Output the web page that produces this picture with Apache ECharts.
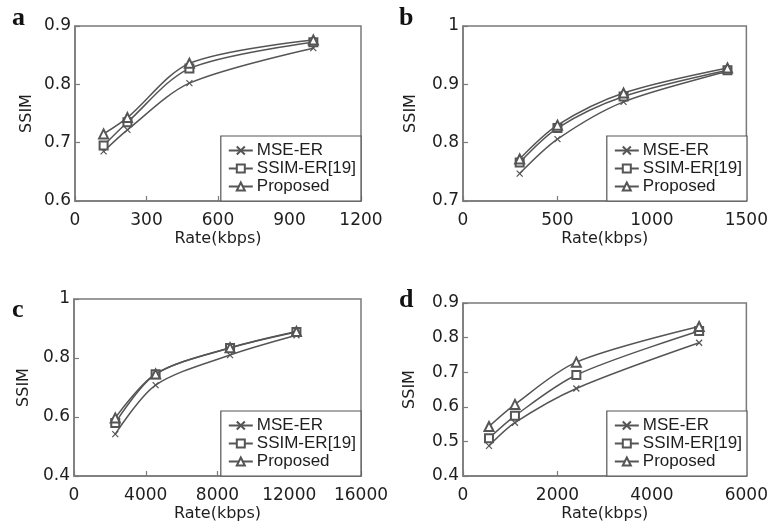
<!DOCTYPE html>
<html>
<head>
<meta charset="utf-8">
<script src="https://cdn.jsdelivr.net/npm/echarts@6/dist/echarts.min.js"></script>
<style>
  html, body { margin: 0; padding: 0; background: #fff; }
  #chart { width: 771px; height: 530px; }
</style>
</head>
<body>
<div id="chart"></div>
<script>
// Series labels shared by all four panels
const methods = ['MSE-ER', 'SSIM-ER[19]', 'Proposed'];

// Panel a
const rateA = [120, 220, 480, 1000];
const mseA  = [0.685, 0.722, 0.802, 0.862];
const ssimA = [0.695, 0.735, 0.827, 0.872];
const propA = [0.715, 0.743, 0.836, 0.876];

// Panel b
const rateB = [300, 500, 850, 1400];
const mseB  = [0.747, 0.806, 0.870, 0.922];
const ssimB = [0.766, 0.825, 0.879, 0.924];
const propB = [0.772, 0.830, 0.885, 0.928];

// Panel c
const rateC = [2300, 4550, 8700, 12400];
const mseC  = [0.542, 0.708, 0.810, 0.877];
const ssimC = [0.580, 0.745, 0.834, 0.888];
const propC = [0.597, 0.746, 0.835, 0.890];

// Panel d
const rateD = [550, 1100, 2400, 5000];
const mseD  = [0.487, 0.554, 0.653, 0.785];
const ssimD = [0.509, 0.574, 0.692, 0.819];
const propD = [0.543, 0.607, 0.729, 0.832];

// Axis ranges: [min, max, interval]
const xRanges = [[0, 1200, 300], [0, 1500, 500], [0, 16000, 4000], [0, 6000, 2000]];
const yRanges = [[0.6, 0.9, 0.1], [0.7, 1.0, 0.1], [0.4, 1.0, 0.2], [0.4, 0.9, 0.1]];
const panelLetters = ['a', 'b', 'c', 'd'];

const panels = [
  { rate: rateA, vals: [mseA, ssimA, propA] },
  { rate: rateB, vals: [mseB, ssimB, propB] },
  { rate: rateC, vals: [mseC, ssimC, propC] },
  { rate: rateD, vals: [mseD, ssimD, propD] }
];

// Layout of each plot box
const boxes = [
  { left: 75,  top: 26,  width: 286, height: 175, nameGap: 40, title: [12, 5] },
  { left: 463, top: 26,  width: 284, height: 175, nameGap: 44, title: [399, 5] },
  { left: 74,  top: 299, width: 287, height: 177, nameGap: 42, title: [12, 297] },
  { left: 463, top: 303, width: 284, height: 173, nameGap: 45, title: [399, 287] }
];

const lineColor = '#555';
const boxColor = '#7a7a7a';
const textColor = '#1e1e1e';
const crossPath = 'path://M0 0L10 10M10 0L0 10';

const symbols = [
  { symbol: crossPath, symbolSize: 6 },
  { symbol: 'emptyRect', symbolSize: 8 },
  { symbol: 'emptyTriangle', symbolSize: 9 }
];

const grid = [], xAxis = [], yAxis = [], series = [], legend = [], title = [];

boxes.forEach((b, i) => {
  grid.push({
    left: b.left, top: b.top, width: b.width, height: b.height,
    show: true, borderColor: boxColor, borderWidth: 1.5, backgroundColor: '#fff'
  });
  xAxis.push({
    type: 'value', gridIndex: i,
    min: xRanges[i][0], max: xRanges[i][1], interval: xRanges[i][2],
    name: 'Rate(kbps)', nameLocation: 'middle', nameGap: 30,
    nameTextStyle: { fontFamily: 'DejaVu Sans', fontSize: 16, color: textColor },
    axisLine: { show: true, lineStyle: { color: boxColor, width: 1.5 } },
    axisTick: { show: true, inside: true, length: 5, lineStyle: { color: boxColor, width: 1.2 } },
    axisLabel: {
      fontFamily: 'DejaVu Sans', fontSize: 17, color: textColor, margin: 11,
      formatter: v => String(Math.round(v))
    },
    splitLine: { show: false }
  });
  yAxis.push({
    type: 'value', gridIndex: i,
    min: yRanges[i][0], max: yRanges[i][1], interval: yRanges[i][2],
    name: 'SSIM', nameLocation: 'middle', nameGap: b.nameGap, nameRotate: 90,
    nameTextStyle: { fontFamily: 'DejaVu Sans', fontSize: 16, color: textColor },
    axisLine: { show: true, lineStyle: { color: boxColor, width: 1.5 } },
    axisTick: { show: true, inside: true, length: 5, lineStyle: { color: boxColor, width: 1.2 } },
    axisLabel: {
      fontFamily: 'DejaVu Sans', fontSize: 17, color: textColor, margin: 4,
      formatter: v => (Math.abs(v - 1) < 1e-9 ? '1' : v.toFixed(1))
    },
    splitLine: { show: false }
  });
  panels[i].vals.forEach((vals, k) => {
    series.push({
      type: 'line', name: methods[k], xAxisIndex: i, yAxisIndex: i,
      data: panels[i].rate.map((r, j) => [r, vals[j]]),
      smooth: 0.3,
      symbol: symbols[k].symbol, symbolSize: symbols[k].symbolSize,
      showAllSymbol: true,
      lineStyle: { color: lineColor, width: 1.5 },
      itemStyle: { color: lineColor, borderColor: lineColor, borderWidth: 1.2 },
      z: 3 + k
    });
  });
  legend.push({
    data: methods,
    orient: 'vertical',
    right: 771 - (b.left + b.width),
    bottom: 530 - (b.top + b.height),
    backgroundColor: '#fff',
    borderColor: '#555', borderWidth: 1.2,
    padding: [6, 5, 6, 7],
    itemGap: 1, itemWidth: 24, itemHeight: 10,
    selectedMode: false,
    textStyle: {
      fontFamily: 'Liberation Sans', fontSize: 17, lineHeight: 17,
      color: textColor, padding: [0, 0, 0, -1]
    }
  });
  title.push({
    text: panelLetters[i], left: b.title[0], top: b.title[1], padding: 0,
    textStyle: { fontFamily: 'Liberation Serif', fontWeight: 'bold', fontSize: 26, color: '#111' }
  });
});

const chart = echarts.init(document.getElementById('chart'), null, { renderer: 'canvas' });
chart.setOption({
  animation: false,
  backgroundColor: '#fff',
  title, grid, xAxis, yAxis, legend, series
});
</script>
</body>
</html>
